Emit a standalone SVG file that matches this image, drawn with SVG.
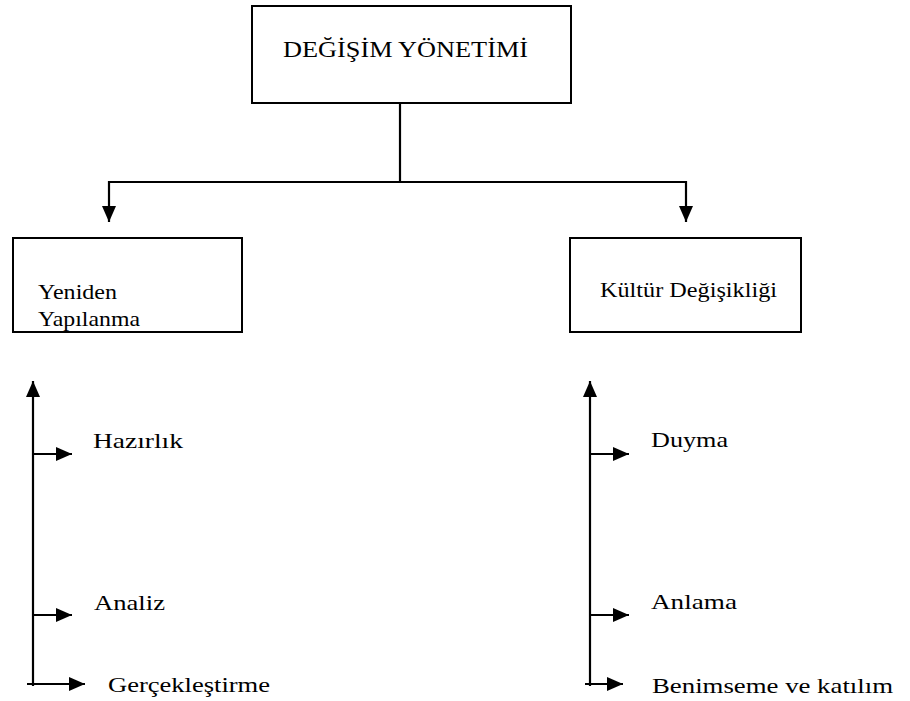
<svg xmlns="http://www.w3.org/2000/svg" width="910" height="701" viewBox="0 0 910 701">
  <defs>
    <marker id="arrow" markerUnits="userSpaceOnUse" markerWidth="17" markerHeight="14" refX="16" refY="7" orient="auto">
      <path d="M0,0 L16,7 L0,14 Z" fill="#000"/>
    </marker>
    <style>
      .box { fill: #fff; stroke: #000; stroke-width: 2; }
      .line { fill: none; stroke: #000; stroke-width: 2.2; }
      .arr { fill: none; stroke: #000; stroke-width: 2.2; marker-end: url(#arrow); }
      .t { font-family: 'Liberation Serif', 'Times New Roman', 'DejaVu Serif', serif; font-size: 22px; fill: #000; }
      .title { font-size: 24px; }
    </style>
  </defs>
  <rect width="910" height="701" fill="#fff"/>

  <!-- connectors -->
  <g id="connectors">
    <polyline class="line" points="400,103 400,182"/>
    <polyline class="line" points="109,182 686,182"/>
    <line class="arr" x1="109" y1="181" x2="109" y2="222"/>
    <line class="arr" x1="686" y1="181" x2="686" y2="222"/>

    <!-- left axis -->
    <line class="arr" x1="33" y1="686" x2="33" y2="381"/>
    <line class="arr" x1="33" y1="454" x2="72" y2="454"/>
    <line class="arr" x1="33" y1="615" x2="72" y2="615"/>
    <line class="arr" x1="27" y1="684" x2="85" y2="684"/>

    <!-- right axis -->
    <line class="arr" x1="590" y1="686" x2="590" y2="381"/>
    <line class="arr" x1="590" y1="454" x2="629" y2="454"/>
    <line class="arr" x1="590" y1="615" x2="629" y2="615"/>
    <line class="arr" x1="585" y1="684" x2="623" y2="684"/>
  </g>

  <g id="degisim-yonetimi">
    <rect class="box" x="252" y="6" width="319" height="97"/>
    <text class="t title" x="283" y="57" textLength="245" lengthAdjust="spacingAndGlyphs" font-family="Liberation Serif, serif">DEĞİŞİM YÖNETİMİ</text>
  </g>

  <g id="yeniden-yapilanma">
    <rect class="box" x="13" y="238" width="229" height="94"/>
    <text class="t" x="38" y="299" textLength="79" lengthAdjust="spacingAndGlyphs">Yeniden</text>
    <text class="t" x="38" y="326" textLength="102" lengthAdjust="spacingAndGlyphs">Yapılanma</text>
  </g>

  <g id="kultur-degisikligi">
    <rect class="box" x="570" y="238" width="231" height="94"/>
    <text class="t" x="600" y="297" textLength="177" lengthAdjust="spacingAndGlyphs">Kültür Değişikliği</text>
  </g>

  <g id="hazirlik">
    <text class="t" x="93" y="448" textLength="90" lengthAdjust="spacingAndGlyphs">Hazırlık</text>
  </g>
  <g id="analiz">
    <text class="t" x="94" y="610" textLength="71" lengthAdjust="spacingAndGlyphs">Analiz</text>
  </g>
  <g id="gerceklestirme">
    <text class="t" x="108" y="692" textLength="162" lengthAdjust="spacingAndGlyphs">Gerçekleştirme</text>
  </g>

  <g id="duyma">
    <text class="t" x="651" y="447" textLength="77" lengthAdjust="spacingAndGlyphs">Duyma</text>
  </g>
  <g id="anlama">
    <text class="t" x="651" y="609" textLength="86" lengthAdjust="spacingAndGlyphs">Anlama</text>
  </g>
  <g id="benimseme">
    <text class="t" x="652" y="693" textLength="241" lengthAdjust="spacingAndGlyphs">Benimseme ve katılım</text>
  </g>
</svg>
